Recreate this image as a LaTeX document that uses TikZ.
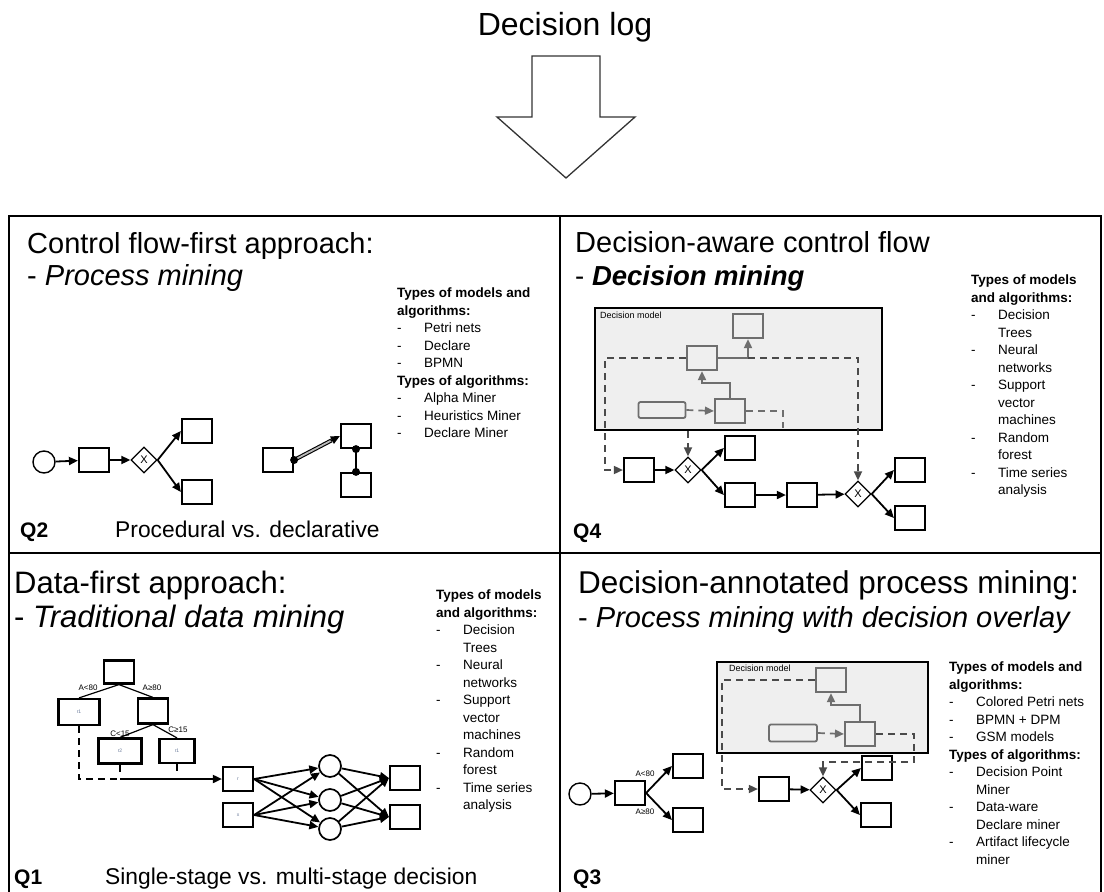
\documentclass[tikz,border=0pt]{standalone}
\usepackage{fontspec}
\setmainfont{Liberation Sans}
\usetikzlibrary{shapes.geometric,arrows.meta,calc}
\definecolor{gline}{HTML}{6E6E6E}
\definecolor{dline}{HTML}{4A4A4A}
\definecolor{dmfill}{HTML}{EFEFEF}
\definecolor{tiny}{HTML}{6A7A9A}
\newcommand\li[1]{\makebox[27pt][l]{-}#1}
\newcommand\lc[1]{\hspace*{27pt}#1}
\begin{document}
\begin{tikzpicture}[x=1pt,y=-1pt,
  box/.style={draw, line width=2.2pt, minimum width=30pt, minimum height=24pt, inner sep=0pt, fill=white},
  gbox/.style={box, draw=gline, fill=none},
  rbox/.style={draw=gline, line width=1.8pt, rounded corners=2pt, minimum width=47pt, minimum height=16pt, inner sep=0pt},
  dmbox/.style={draw, line width=2.2pt, fill=dmfill, inner sep=0pt},
  tip/.style={-{Triangle[length=9pt,width=8pt]}},
  arr/.style={line width=1.8pt, tip},
  garr/.style={arr, draw=gline},
  dsh/.style={line width=1.7pt, dash pattern=on 7pt off 5pt, draw=dline},
  gdsh/.style={dsh, draw=gline},
  dia/.style={diamond, draw, line width=1.3pt, minimum width=26pt, minimum height=26pt, inner sep=0pt, fill=white, font=\fontsize{11}{11}\selectfont},
  startc/.style={circle, draw, line width=1.4pt, minimum size=22pt, inner sep=0pt},
  neuron/.style={circle, draw, line width=1.7pt, minimum size=22pt, inner sep=0pt},
  lst/.style={anchor=north west, align=left, inner sep=0pt, font=\fontsize{13.5}{17.5}\selectfont},
  headA/.style={anchor=base west, inner sep=0pt, font=\fontsize{29}{33}\selectfont},
  headB/.style={anchor=base west, inner sep=0pt, font=\fontsize{31}{35}\selectfont},
  qlab/.style={anchor=base west, inner sep=0pt, font=\bfseries\fontsize{21}{21}\selectfont},
  sub/.style={anchor=base west, inner sep=0pt, font=\fontsize{22.8}{23}\selectfont},
  cond/.style={inner sep=0pt, font=\fontsize{8}{8}\selectfont},
  dmlab/.style={anchor=north west, inner sep=0pt, font=\fontsize{9}{9}\selectfont},
  tl/.style={font=\fontsize{5}{5}\selectfont, text=tiny}
]
\useasboundingbox (0,0) rectangle (1104,892);

% title and the big downward arrow
\node[anchor=base, inner sep=0pt, font=\fontsize{32}{36}\selectfont] (title) at (565,35) {Decision log};
\draw[line width=1.3pt, draw=black!80] (532,56) -- (600,56) -- (600,117) -- (635,117) -- (566,178) -- (497,117) -- (532,117) -- cycle;

% quadrant frame
\draw[line width=2.2pt] (9,895) -- (9,216) -- (1101,216) -- (1101,895);
\draw[line width=2.2pt] (560,216) -- (560,895);
\draw[line width=2.2pt] (9,553) -- (1101,553);

% ---------------- Q2: control flow-first ----------------
\node[headA] (h2a) at (27,253) {Control flow-first approach:};
\node[headA] (h2b) at (27,285) {- \textit{Process mining}};
\node[lst] (l2) at (397,288) {\textbf{Types of models and}\\\textbf{algorithms:}\\\li{Petri nets}\\\li{Declare}\\\li{BPMN}\\\textbf{Types of algorithms:}\\\li{Alpha Miner}\\\li{Heuristics Miner}\\\li{Declare Miner}};

\node[startc] (s2) at (44,462) {};
\node[box] (b2) at (94,460) {};
\node[dia] (x2) at (144,460) {X};
\node[box] (u2) at (197,431) {};
\node[box] (d2) at (197,492) {};
\draw[arr] (s2) -- (b2);
\draw[arr] (b2) -- (x2);
\draw[arr] (x2.east) -- (u2.west);
\draw[arr] (x2.east) -- (d2.west);

\node[box] (dl) at (278,460) {};
\node[box] (dr1) at (356,436) {};
\node[box] (dr2) at (356,485) {};
\draw[line width=1.1pt, double=gray!55, double distance=1.8pt] (dl.east) -- ($(dl.east)!0.82!(dr1.west)$);
\draw[arr] ($(dl.east)!0.8!(dr1.west)$) -- (dr1.west);
\draw[line width=2.8pt] (dr1.south) -- (dr2.north);
\fill (dl.east) circle (4pt);
\fill (dr1.south) circle (4pt);
\fill (dr2.north) circle (4pt);

\node[qlab] (q2) at (20,537) {Q2};
\node[sub] (t2) at (115,537) {Procedural vs. declarative};

% ---------------- Q4: decision-aware control flow ----------------
\node[headA] (h4a) at (575,252) {Decision-aware control flow};
\node[headA, font=\fontsize{27.5}{33}\selectfont] (h4b) at (575,285) {- \textbf{\textit{Decision mining}}};
\node[lst] (l4) at (971,275) {\textbf{Types of models}\\\textbf{and algorithms:}\\\li{Decision}\\\lc{Trees}\\\li{Neural}\\\lc{networks}\\\li{Support}\\\lc{vector}\\\lc{machines}\\\li{Random}\\\lc{forest}\\\li{Time series}\\\lc{analysis}};

\node[dmbox, minimum width=287pt, minimum height=122pt] (dm4) at (738.5,369) {};
\node[dmlab] (dm4l) at ($(dm4.north west)+(6,5)$) {Decision model};
\node[gbox] (t4) at (748,326) {};
\node[gbox] (m4) at (702,358) {};
\node[gbox] (lb4) at (730,411) {};
\node[rbox] (rr4) at (662,410) {};

\node[box] (a4) at (639,470) {};
\node[dia] (xa4) at (688,470) {X};
\node[box] (u4) at (740,448) {};
\node[box] (lo4) at (740,495) {};
\node[box] (mid4) at (802,495) {};
\node[dia] (xb4) at (858,494) {X};
\node[box] (ru4) at (910,470) {};
\node[box] (rl4) at (910,518) {};

\coordinate (c4l) at (605,358);
\coordinate (c4r) at (xb4.north |- m4.east);
\draw[gdsh, tip] (rr4.east) -- (lb4.west);
\draw[garr] (lb4.north) -- ++(0,-15) -| (m4.south);
\draw[garr] (m4.east) -| (t4.south);
\draw[gdsh] (lb4.east) -- ++(37,0) -- ++(0,17);
\draw[dsh, tip] (m4.west) -- (c4l) |- (a4.west);
\draw[dsh, tip] (t4.south |- m4.east) -- (c4r) -- (xb4.north);
\draw[dsh, tip] (xa4.north |- dm4.south) -- (xa4.north);

\draw[arr] (a4) -- (xa4);
\draw[arr] (xa4.east) -- (u4.west);
\draw[arr] (xa4.east) -- (lo4.west);
\draw[arr] (lo4) -- (mid4);
\draw[arr] (mid4) -- (xb4);
\draw[arr] (xb4.east) -- (ru4.west);
\draw[arr] (xb4.east) -- (rl4.west);

\node[qlab] (q4) at (573,538) {Q4};

% ---------------- Q1: data-first ----------------
\node[headB] (h1a) at (14,593) {Data-first approach:};
\node[headB] (h1b) at (14,627) {- \textit{Traditional data mining}};
\node[lst] (l1) at (436,590) {\textbf{Types of models}\\\textbf{and algorithms:}\\\li{Decision}\\\lc{Trees}\\\li{Neural}\\\lc{networks}\\\li{Support}\\\lc{vector}\\\lc{machines}\\\li{Random}\\\lc{forest}\\\li{Time series}\\\lc{analysis}};

\node[box, minimum height=23pt] (root1) at (119,672) {};
\node[box, minimum width=41pt, minimum height=26pt, tl] (cl1) at (79,712) {r1};
\node[box, minimum height=25pt] (cr1) at (153,711) {};
\node[box, minimum width=43pt, minimum height=25pt, tl] (g1) at (120,751) {r2};
\node[box, minimum width=35pt, tl] (g2) at (177,751) {r1};
\draw[line width=1.2pt] (root1.south) -- (cl1.north);
\draw[line width=1.2pt] (root1.south) -- (cr1.north);
\draw[line width=1.2pt] (cr1.south) -- (g1.north);
\draw[line width=1.2pt] (cr1.south) -- (g2.north);
\node[cond] (ca1) at (88,688) {A<80};
\node[cond] (ca2) at (152,688) {A≥80};
\node[cond] (cc1) at (120,734) {C<15};
\node[cond] (cc2) at (178,730) {C≥15};

\node[box, tl] (in1) at (238,779) {r};
\node[box, tl] (in2) at (238,815) {x};
\node[neuron] (n1) at (330,766) {};
\node[neuron] (n2) at (330,800) {};
\node[neuron] (n3) at (330,829) {};
\node[box] (o1) at (405,778) {};
\node[box] (o2) at (405,817) {};

\coordinate (k1) at (cl1.south |- in1.west);
\coordinate (k2) at (g1.south |- in1.west);
\draw[dsh, draw=black] (cl1.south) -- (k1) -- (k2);
\draw[arr] (k2) -- (in1.west);
\draw[line width=1.8pt] (g1.south) -- ++(0,7);
\draw[line width=1.8pt] (g2.south) -- ++(0,7);

\foreach \i in {in1,in2}{
  \foreach \n in {n1,n2,n3}{
    \draw[arr] (\i.east) -- (\n);
  }
}
\foreach \n in {n1,n2,n3}{
  \foreach \o in {o1,o2}{
    \draw[arr] (\n) -- (\o.west);
  }
}

\node[qlab] (q1) at (14,884) {Q1};
\node[sub] (t1) at (105,884) {Single-stage vs. multi-stage decision};

% ---------------- Q3: decision-annotated process mining ----------------
\node[headB, font=\fontsize{31.5}{35}\selectfont] (h3a) at (578,593) {Decision-annotated process mining:};
\node[headB, font=\fontsize{29}{35}\selectfont] (h3b) at (578,627) {- \textit{Process mining with decision overlay}};
\node[lst] (l3) at (949,662) {\textbf{Types of models and}\\\textbf{algorithms:}\\\li{Colored Petri nets}\\\li{BPMN + DPM}\\\li{GSM models}\\\textbf{Types of algorithms:}\\\li{Decision Point}\\\lc{Miner}\\\li{Data-ware}\\\lc{Declare miner}\\\li{Artifact lifecycle}\\\lc{miner}};

\node[startc] (s3) at (580,794) {};
\node[box] (b31) at (630,793) {};
\node[box] (u3) at (688,766) {};
\node[box] (lo3) at (688,820) {};
\draw[arr] (s3) -- (b31);
\draw[arr] (b31.east) -- (u3.west);
\draw[arr] (b31.east) -- (lo3.west);
\node[cond] (ca3) at (645,774) {A<80};
\node[cond] (cb3) at (645,812) {A≥80};

\node[dmbox, minimum width=211pt, minimum height=91pt] (dm3) at (822.5,707.5) {};
\node[dmlab] (dm3l) at ($(dm3.north west)+(13,4)$) {Decision model};
\node[gbox] (t3) at (831,680) {};
\node[gbox] (lb3) at (860,734) {};
\node[rbox, minimum width=48pt, minimum height=17pt] (rr3) at (793,733) {};

\node[box] (b32) at (774,789) {};
\node[dia] (x3) at (823,790) {X};
\node[box] (ru3) at (877,768) {};
\node[box] (rl3) at (876,815) {};

\coordinate (c3l) at (722,680);
\draw[gdsh, tip] (rr3.east) -- (lb3.west);
\draw[garr] (lb3.north) -- ++(0,-16) -| (t3.south);
\draw[dsh, tip] (t3.west) -- (c3l) |- (b32.west);
\draw[dsh, tip] (lb3.east) -- ++(38,0) -- ++(0,28) -| (x3.north);

\draw[arr] (b32) -- (x3);
\draw[arr] (x3.east) -- (ru3.west);
\draw[arr] (x3.east) -- (rl3.west);

\node[qlab] (q3) at (573,884) {Q3};
\end{tikzpicture}
\end{document}
